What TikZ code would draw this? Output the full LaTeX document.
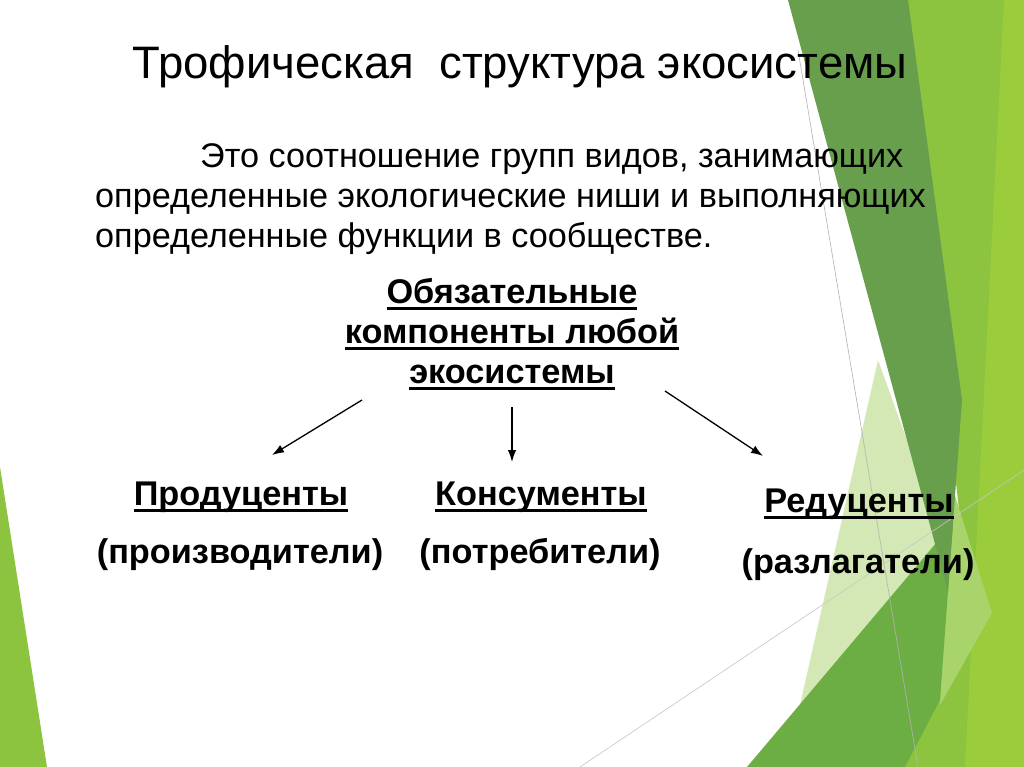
\documentclass[tikz,border=0pt]{standalone}
\usepackage{fontspec}
\setmainfont{Liberation Sans}
\usetikzlibrary{arrows.meta}
\definecolor{leafgreen}{HTML}{8CC43F}
\definecolor{leaflight}{HTML}{9BCC3C}
\definecolor{mossgreen}{HTML}{689F4D}
\definecolor{grassgreen}{HTML}{6DAE44}
\definecolor{palegreen}{HTML}{D3E8B4}
\definecolor{limestrip}{HTML}{A8D46B}
\newcommand{\ulw}[1]{\leavevmode\setbox0=\hbox{#1}\rlap{\rule[-6.5pt]{\wd0}{2.6pt}}\box0}
\begin{document}
\begin{tikzpicture}[x=1pt,y=-1pt,
  heading/.style={font=\fontsize{45.5}{52}\selectfont, inner sep=0pt},
  para/.style={font=\fontsize{34.2}{40}\selectfont, align=left, inner sep=0pt},
  group/.style={font=\fontsize{34.3}{40}\selectfont\bfseries, align=center, inner sep=0pt},
  arr/.style={-{Latex[length=12pt,width=8.5pt]}, line width=1.3pt}]
\useasboundingbox[fill=white] (0,0) rectangle (1024,767);
% green facets on the right
\fill[leafgreen] (905,0) -- (1024,0) -- (1024,767) -- (905,767) -- (960,520) -- cycle;
\fill[leaflight] (1004,0) -- (1024,0) -- (1024,767) -- (965,767) -- cycle;
\fill[palegreen] (878,360) -- (950,560) -- (800,705) -- cycle;
\fill[limestrip] (950,480) -- (992,613) -- (940,705) -- cycle;
\fill[grassgreen] (747,767) -- (953,523) -- (940,700) -- (905,767) -- cycle;
\fill[mossgreen] (788,0) -- (908,0) -- (962,400) -- (948,592) -- cycle;
\draw[gray!60, line width=0.6pt] (798,50) -- (918,767);
\draw[gray!45, line width=0.6pt] (580,767) -- (1024,470);
% green facet on the left
\fill[leafgreen] (0,467) -- (47,767) -- (0,767) -- cycle;

% text
\node[heading, anchor=base] (title) at (520,79) {Трофическая\ \ структура экосистемы};
\node[para, anchor=north west] (def) at (95,143)
  {\hspace*{105pt}Это соотношение групп видов, занимающих\\
   определенные экологические ниши и выполняющих\\
   определенные функции в сообществе.};
\node[group, anchor=north] (comp) at (512,278)
  {\ulw{Обязательные}\\ \ulw{компоненты любой}\\ \ulw{экосистемы}};

\node[group, anchor=base] (prod) at (241,505) {\ulw{Продуценты}};
\node[group, anchor=base] (prodnote) at (240,563) {(производители)};
\node[group, anchor=base] (cons) at (541,505) {\ulw{Консументы}};
\node[group, anchor=base] (consnote) at (540,563) {(потребители)};
\node[group, anchor=base] (red) at (859,512) {\ulw{Редуценты}};
\node[group, anchor=base] (rednote) at (858,573) {(разлагатели)};

% arrows
\coordinate (prodtail) at (362,400);
\coordinate (prodhead) at (272,455);
\coordinate (constail) at (512,407);
\coordinate (conshead) at (512,462);
\coordinate (redtail) at (665,391);
\coordinate (redhead) at (763,456);
\foreach \g in {prod,cons,red}
  \draw[arr] (\g tail) -- (\g head);
\end{tikzpicture}
\end{document}
